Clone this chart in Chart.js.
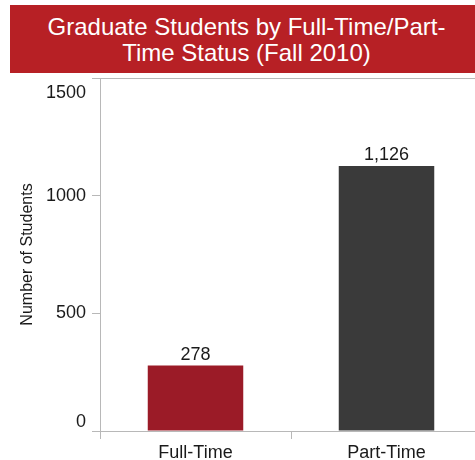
<!DOCTYPE html>
<html>
<head>
<meta charset="utf-8">
<title>Graduate Students by Full-Time/Part-Time Status (Fall 2010)</title>
<script src="https://cdn.jsdelivr.net/npm/chart.js@4"></script>
<style>
    html, body { margin: 0; padding: 0; overflow: hidden; background: #fff; }
    #wrap { position: relative; width: 475px; height: 460px; overflow: hidden; }
    #banner {
        position: absolute; left: 10px; top: 5px; width: 473px; height: 68px;
        box-sizing: border-box; padding-top: 9px;
        background: #b72025; color: #fff; text-align: center;
        font: 24px "Liberation Sans", Arial, sans-serif; line-height: 26px;
        z-index: 2;
    }
    #chart { position: absolute; left: 0; top: 0; }
</style>
</head>
<body>
<div id="wrap">
    <div id="banner">Graduate Students by Full-Time/Part-<br>Time Status (Fall 2010)</div>
    <canvas id="chart" width="482" height="460"></canvas>
</div>
<script>
// datos del gráfico
const categories = ['Full-Time', 'Part-Time'];
const students = [278, 1126];
const barColors = ['#9b1b27', '#3a3a3a'];
const yMin = 0;
const yMax = 1500;
const yStep = 500;

const FONT = '"Liberation Sans", Arial, sans-serif';
const GRAY = '#b8b8b8';
const TEXT = '#1a1a1a';

// etiquetas de los extremos del eje y, desplazadas hacia dentro como en el original
const edgeOffsets = { 0: -8.5, 1500: 15 };

// valores encima de las barras + etiquetas de extremos del eje y
const labelsPlugin = {
    id: 'labelsPlugin',
    afterDraw(chart) {
        const ctx = chart.ctx;
        ctx.save();
        ctx.fillStyle = TEXT;
        ctx.font = '18px ' + FONT;
        ctx.textAlign = 'center';
        ctx.textBaseline = 'alphabetic';
        chart.getDatasetMeta(0).data.forEach((bar, i) => {
            ctx.fillText(students[i].toLocaleString('en-US'), bar.x, bar.y - 6);
        });

        const y = chart.scales.y;
        const opts = y.options;
        ctx.textAlign = 'right';
        ctx.textBaseline = 'middle';
        Object.keys(edgeOffsets).forEach(v => {
            const py = y.getPixelForValue(Number(v)) + edgeOffsets[v];
            ctx.fillText(v, y.right - opts.grid.tickLength - opts.ticks.padding, py);
        });
        ctx.restore();
    }
};

const ctx = document.getElementById('chart').getContext('2d');
new Chart(ctx, {
    type: 'bar',
    data: {
        labels: categories,
        datasets: [{
            label: 'Number of Students',
            data: students,
            backgroundColor: barColors,
            borderWidth: 0,
            barPercentage: 1,
            categoryPercentage: 0.5
        }]
    },
    options: {
        responsive: false,
        animation: false,
        devicePixelRatio: 1,
        layout: { padding: { top: 78, left: 0, right: 0, bottom: 0 } },
        plugins: {
            legend: { display: false },
            tooltip: { enabled: false }
        },
        scales: {
            x: {
                grid: { offset: true, drawOnChartArea: false, color: GRAY, tickLength: 8 },
                border: { color: GRAY, width: 1 },
                ticks: { color: TEXT, font: { family: FONT, size: 18 }, padding: 3 },
                afterFit: scale => { scale.height = 29; }
            },
            y: {
                min: yMin,
                max: yMax,
                ticks: {
                    stepSize: yStep,
                    color: TEXT,
                    font: { family: FONT, size: 18 },
                    padding: 6,
                    callback: v => (v in edgeOffsets ? '' : String(v))
                },
                grid: {
                    color: c => (c.tick && c.tick.value === yMax ? GRAY : 'transparent'),
                    tickColor: GRAY,
                    tickLength: 8
                },
                border: { color: GRAY, width: 1 },
                title: {
                    display: true,
                    text: 'Number of Students',
                    color: TEXT,
                    font: { family: FONT, size: 16 },
                    padding: { top: 18, bottom: 0 }
                },
                afterFit: scale => { scale.width = 100; }
            }
        }
    },
    plugins: [labelsPlugin]
});
</script>
</body>
</html>
